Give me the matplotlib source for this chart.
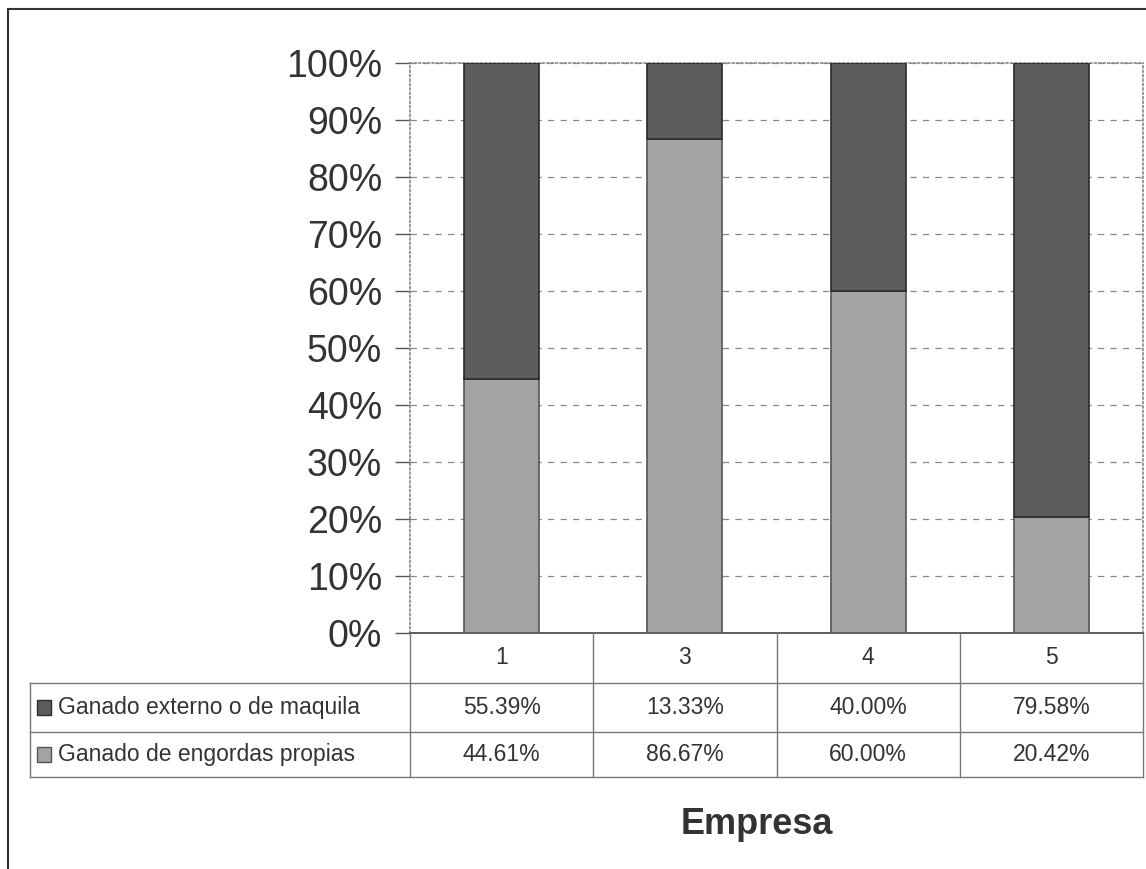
import numpy as np
import matplotlib
matplotlib.use('Agg')
import matplotlib.pyplot as plt
from matplotlib.patches import Rectangle

plt.rcParams['font.family'] = ['Liberation Sans', 'DejaVu Sans']

# datos
empresas = ['1', '3', '4', '5']
externo = [55.39, 13.33, 40.00, 79.58]
propias = [44.61, 86.67, 60.00, 20.42]
series = ['Ganado externo o de maquila', 'Ganado de engordas propias']
yticks = np.arange(0, 101, 10)

c_dark = '#5c5c5c'
c_light = '#a3a3a3'

W, H = 1146, 869
fig = plt.figure(figsize=(W / 100, H / 100), dpi=100)

# marco exterior
fig.patches.append(Rectangle((8 / W, -0.01), 1.2, 1 - 9 / H + 0.01,
                             transform=fig.transFigure, fill=False,
                             edgecolor='#333333', lw=1.5))

# area de grafico (px: x 410-1143, y 63-633)
ax = fig.add_axes([410 / W, 1 - 633 / H, 733 / W, 570 / H])
x = np.arange(len(empresas))
ax.bar(x, propias, width=0.41, color=c_light, edgecolor='#555555', lw=1.2, zorder=3)
ax.bar(x, externo, width=0.41, bottom=propias, color=c_dark, edgecolor='#2a2a2a',
       lw=1.2, zorder=3)
ax.set_xlim(-0.5, len(empresas) - 0.5)
ax.set_ylim(0, 100)
ax.set_yticks(yticks)
ax.set_yticklabels([f'{v}%' for v in yticks], fontsize=27, color='#333333')
ax.tick_params(axis='y', length=11, width=1, color='#555555', pad=9)
ax.set_xticks([])
ax.yaxis.grid(True, linestyle=(0, (5, 5)), color='#888888', lw=0.9, zorder=0)
for s in ['top', 'left', 'right']:
    ax.spines[s].set_color('#888888')
    ax.spines[s].set_linestyle(':')
    ax.spines[s].set_linewidth(1.2)
ax.spines['bottom'].set_color('#444444')
ax.spines['bottom'].set_linewidth(1.2)

# tabla de datos (px: y 633-777)
tab = fig.add_axes([410 / W, 1 - 777 / H, 733 / W, 144 / H])
tab.set_xlim(-0.5, len(empresas) - 0.5)
tab.set_ylim(144, 0)
tab.axis('off')
row_edges = [0, 50, 99, 144]
lab_left = -0.5 - 380 / 183.25
lc = '#777777'
for i in range(len(empresas) + 1):
    tab.plot([i - 0.5, i - 0.5], [0, 144], color=lc, lw=1, clip_on=False)
for yy in row_edges[1:]:
    tab.plot([lab_left, len(empresas) - 0.5], [yy, yy], color=lc, lw=1, clip_on=False)
tab.plot([lab_left, lab_left], [row_edges[1], row_edges[3]], color=lc, lw=1, clip_on=False)

fs = 16.5
mid = [(row_edges[k] + row_edges[k + 1]) / 2 for k in range(3)]
for i, e in enumerate(empresas):
    tab.text(i, mid[0], e, ha='center', va='center', fontsize=fs, color='#333333')
    tab.text(i, mid[1], f'{externo[i]:.2f}%', ha='center', va='center',
             fontsize=fs, color='#333333')
    tab.text(i, mid[2], f'{propias[i]:.2f}%', ha='center', va='center',
             fontsize=fs, color='#333333')

for k, (name, col, ec) in enumerate(zip(series, [c_dark, c_light], ['#2a2a2a', '#555555'])):
    y = mid[k + 1]
    tab.add_patch(Rectangle((lab_left + 0.04, y - 7.5), 0.075, 15, facecolor=col,
                            edgecolor=ec, lw=1, clip_on=False))
    tab.text(lab_left + 0.155, y, name, ha='left', va='center', fontsize=fs,
             color='#333333', clip_on=False)

fig.text(757 / W, 1 - 825 / H, 'Empresa', ha='center', va='center',
         fontsize=26, fontweight='bold', color='#333333')

fig.savefig('out.png', dpi=100)
